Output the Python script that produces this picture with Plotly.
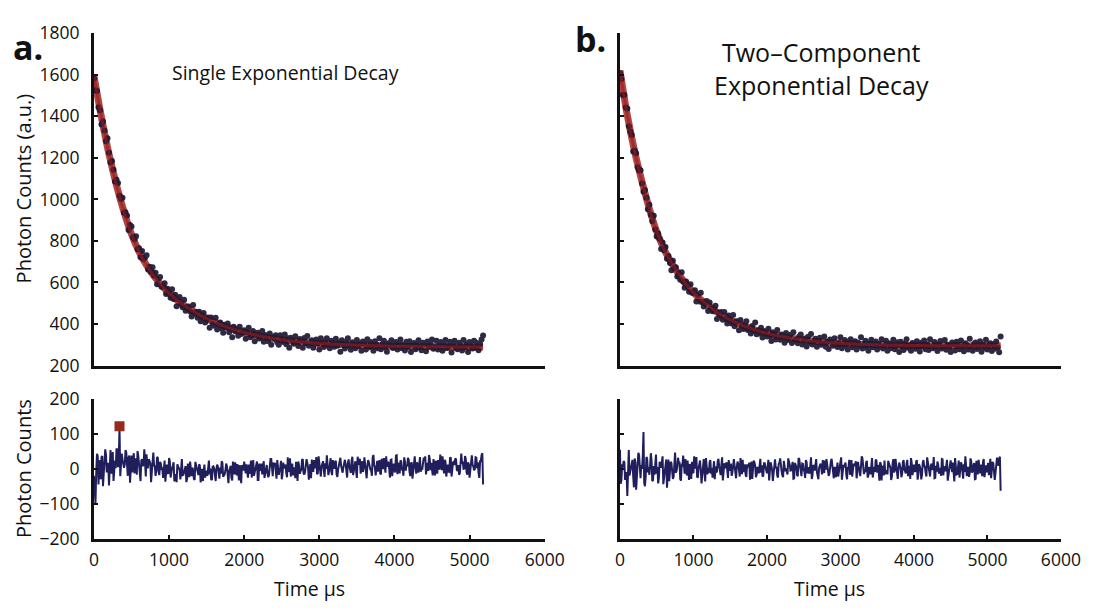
import plotly.graph_objects as go

# ---------------- data ----------------
# sample times of the measured points (µs), 20 µs apart
time_us = list(range(0, 5200, 20))
# in-between residual sample times (µs)
time_mid_us = list(range(10, 5180, 20))
# sample times of the fitted curves (µs)
fit_time_us = list(range(0, 5200, 100)) + [5180]

# Panel a: measured photon counts
counts_a = [
    1582,1525,1522,1444,1429,1360,1375,1331,1280,1294,1225,1178,1185,1143,1086,1094,1079,1017,1002,1008,
    936,938,923,853,877,869,818,808,823,760,765,721,752,713,720,731,663,676,651,673,
    634,647,591,619,627,579,582,596,544,570,553,527,567,521,541,486,519,530,497,481,
    517,464,482,485,460,436,492,450,458,430,459,414,438,453,407,420,431,382,431,400,
    392,430,374,400,408,380,358,397,383,403,361,382,336,387,365,376,344,387,352,361,
    370,329,361,382,336,342,366,317,349,358,330,340,366,315,347,331,317,355,300,339,
    331,346,312,300,346,330,314,350,303,331,286,334,322,305,341,309,294,328,321,286,
    333,307,342,295,301,322,286,314,326,306,278,331,316,289,309,332,294,283,320,309,
    291,329,296,311,267,322,303,282,315,331,293,276,312,301,284,323,294,307,271,316,
    305,278,327,288,313,295,272,317,302,284,331,279,304,319,288,267,308,299,322,285,
    295,313,277,307,326,284,302,273,315,291,317,265,304,309,279,299,322,288,274,310,
    305,269,316,292,308,326,281,289,319,277,297,313,271,302,323,285,294,315,263,303,
    319,285,279,310,298,273,323,290,306,266,313,295,282,320,287,309,274,304,326,345,
]
# Panel a: single exponential fit
fit_a = [
    1595,1395,1218,1068,940,832,748,683,630,586,548,517,490,466,445,426,410,395,382,370,
    360,351,343,336,330,325,320,316,313,310,307,305,303,301,300,298,297,296,295,294,293,
    293,292,292,291,291,291,290,290,290,290,290,290,
]
# Panel a: residuals at time_us
resid_a = [
    -20,-98,43,-45,2,33,-50,23,40,14,-48,54,34,-35,24,58,5,118,42,27,
    3,54,11,32,-40,38,15,-13,30,51,2,-35,28,13,-9,42,5,22,-38,34,
    10,-20,34,-8,20,0,-26,24,7,-12,31,-25,3,19,-15,-38,7,-3,23,-18,
    -10,8,-28,2,21,-21,-3,-32,10,-14,13,-39,0,5,-25,-5,18,-16,-30,6,
    1,-35,12,-12,4,22,-23,-15,15,-27,-7,9,-33,-2,19,-19,-10,11,-41,-1,
    21,-13,-19,12,0,-25,25,-8,8,-32,15,-3,-16,22,-11,11,-24,6,28,-21,
    12,-8,25,-17,4,-30,18,7,-12,33,-5,-22,15,2,-27,9,21,-14,-3,28,
    -16,9,17,-31,14,27,-6,2,34,-13,8,-22,22,-4,16,39,-18,6,-8,25,
    0,23,-23,14,32,-7,4,26,-18,16,7,-12,35,-4,22,-26,13,29,2,-9,
    33,-14,9,18,-2,-20,40,3,15,-8,25,-16,12,31,-11,6,20,-25,27,0,
    -3,38,-15,13,24,-1,-20,21,10,32,-7,16,-28,26,6,19,-11,34,1,12,
    23,-16,17,40,-4,3,28,-19,14,25,-2,9,36,-13,20,5,-8,31,-22,18,
    11,27,-6,-17,30,15,0,37,-10,19,-25,24,12,-4,33,2,-12,22,40,-45,
]
# Panel a: residuals at time_mid_us
resid_a_mid = [
    -75,-11,37,25,-30,37,1,56,-10,16,34,-14,48,17,2,56,31,-21,44,12,
    12,47,-20,38,20,-10,45,20,-17,37,-6,24,8,56,-22,2,28,16,-14,47,
    7,-5,32,-18,15,1,23,-37,12,-14,21,-3,9,-36,-15,13,1,-30,28,-17,
    2,-38,15,-24,-11,4,-29,20,-7,-18,9,-2,-35,12,-13,-20,24,1,-32,7,
    -35,0,6,-28,-14,17,-20,-4,8,-41,3,-26,21,-16,-1,14,-33,-22,11,-5,
    2,13,-25,-14,24,0,-20,7,21,-32,-4,15,3,-26,10,-12,-18,28,-7,18,
    17,-28,8,-5,23,-16,1,12,-24,-8,30,14,-19,2,20,-35,9,-7,26,-13,
    -9,28,5,14,-27,-6,25,10,-15,36,-11,7,22,-23,0,18,-7,31,-18,9,
    20,-16,-2,32,9,-11,19,14,-25,27,0,24,-18,11,-7,35,16,-14,22,4,
    13,-27,25,4,-5,33,12,-19,23,7,-13,29,-1,-9,36,18,2,26,-21,15,
    -10,39,17,-13,22,0,33,-5,8,26,-21,19,3,36,-14,11,23,-8,-2,32,
    36,5,-6,29,17,-19,10,23,-14,3,41,-4,15,26,-22,12,-9,33,0,20,
    30,-3,11,-13,44,21,1,27,-17,13,-8,39,7,-1,32,19,-26,22,45,
]
# highlighted residual point (panel a)
marker_t = [340]
marker_v = [122]

# Panel b: measured photon counts
counts_b = [
    1608,1580,1503,1503,1442,1438,1352,1327,1310,1231,1235,1222,1155,1139,1140,1076,1037,1045,1008,952,
    974,926,895,921,855,821,836,810,761,792,755,771,714,727,694,659,705,670,673,629,
    646,613,649,603,575,605,586,556,592,550,551,563,509,541,509,550,505,484,505,511,
    463,504,476,461,476,488,424,456,440,458,421,458,426,403,441,420,403,444,389,412,
    414,370,420,390,376,398,414,371,379,355,391,366,408,351,369,354,382,335,366,353,
    340,377,343,318,360,352,326,371,337,324,350,338,310,357,323,337,349,309,360,319,
    325,308,340,350,302,316,330,292,339,309,352,302,314,329,291,321,334,300,305,340,
    291,315,280,325,319,296,332,302,290,308,336,283,296,323,303,278,316,327,288,299,
    317,277,310,293,337,282,299,320,287,271,309,324,288,299,316,277,304,291,327,282,
    293,320,271,308,283,301,324,279,294,312,265,315,290,275,306,327,286,295,272,309,
    299,281,317,287,268,310,292,321,279,303,275,327,288,283,313,293,270,304,318,282,
    287,323,276,300,284,266,311,303,273,315,295,279,321,290,269,307,298,277,329,289,
    271,305,311,280,292,317,267,300,284,324,277,295,308,270,303,281,316,286,264,340,
]
# Panel b: two-component fit
fit_b = [
    1620,1405,1230,1085,955,845,760,695,640,592,552,518,490,462,440,420,403,389,376,365,
    355,347,340,334,328,323,319,315,312,309,307,305,304,302,301,300,299,298,298,297,297,
    297,296,296,296,296,296,295,295,295,295,295,295,
]
# Panel b: residuals at time_us
resid_b = [
    55,-32,5,19,-13,-78,54,-5,14,-22,30,-60,10,40,-27,0,106,-50,34,-10,
    -17,45,-35,8,24,-14,-42,20,3,36,-23,12,-54,27,-3,17,-29,39,-11,6,
    18,-29,11,38,-14,-6,24,-32,7,20,-12,1,34,-25,14,-4,-19,28,-36,12,
    3,19,-14,-25,22,7,-8,29,-18,11,-33,16,4,-12,25,-6,-20,14,8,-27,
    21,-4,31,-15,-9,13,-23,6,18,-1,-29,24,10,-17,3,27,-11,-22,16,5,
    -13,26,-7,9,-35,20,2,-19,14,30,-8,-24,12,1,-16,23,-5,8,-28,17,
    6,-21,28,-10,15,-3,-26,19,4,-14,33,-18,7,22,-9,-30,11,2,25,-12,
    -2,16,-20,10,29,-13,5,-24,18,-6,21,-31,8,13,-17,3,26,-8,-22,14,
    9,-27,20,-4,12,30,-15,-7,23,-19,1,17,-25,6,27,-11,-2,19,-33,7,
    24,-10,-16,15,3,-22,28,-5,11,-29,18,0,-13,25,-8,14,-21,9,31,-18,
    12,-8,25,-17,4,-30,18,7,-12,33,-5,-22,15,2,-27,9,21,-14,-3,28,
    -19,6,14,-34,11,24,-9,-1,31,-16,5,-25,19,-7,13,36,-21,3,-11,22,
    -6,17,-29,8,26,-13,-2,20,-24,10,1,-18,29,-10,16,-32,7,23,30,-63,
]
# Panel b: residuals at time_mid_us
resid_b_mid = [
    -43,13,22,-32,-10,40,-19,6,26,-53,18,-29,46,-13,11,35,-40,-22,30,5,
    8,24,-33,-17,41,5,-26,15,36,-44,-2,27,9,-35,20,-14,-23,47,-6,32,
    20,-34,10,-6,28,-19,1,14,-29,-10,36,17,-23,2,24,-42,11,-8,31,-16,
    -12,25,2,11,-30,-9,22,7,-18,33,-14,4,19,-26,-3,15,-10,28,-21,6,
    14,-22,-8,26,3,-17,13,8,-31,21,-6,18,-24,5,-13,29,10,-20,16,-2,
    7,-33,19,-2,-11,27,6,-25,17,1,-19,23,-7,-15,30,12,-4,20,-27,9,
    -18,31,9,-21,14,-8,25,-13,0,18,-29,11,-5,28,-22,3,15,-16,-10,24,
    28,-3,-14,21,9,-27,2,15,-22,-5,33,-12,7,18,-30,4,-17,25,-8,12,
    22,-11,3,-21,36,13,-7,19,-25,5,-16,31,-1,-9,24,11,-34,14,6,-19,
    -15,-4,23,7,-32,16,-10,29,-18,1,10,-24,20,-2,-13,26,8,-29,17,-6,
    -6,21,-31,14,0,-17,25,6,-22,19,-14,9,-3,34,-26,-8,12,3,-20,27,
    4,-7,26,-19,11,-2,18,-36,8,-15,24,2,13,-28,-9,16,5,-23,30,-11,
    10,-30,23,-16,-3,12,-21,28,1,-10,17,6,-27,20,-5,-12,32,9,35,
]

top_yticks = [200, 400, 600, 800, 1000, 1200, 1400, 1600, 1800]
bot_yticks = [-200, -100, 0, 100, 200]
bot_yticktext = ["\u2212200", "\u2212100", "0", "100", "200"]
xticks = [0, 1000, 2000, 3000, 4000, 5000, 6000]

titles = ["Single Exponential Decay", "Two\u2013Component<br>Exponential Decay"]
panel_labels = ["a.", "b."]


def merge(t1, v1, t2, v2):
    """Put the two sets of residual samples in time order."""
    pairs = sorted(list(zip(t1, v1)) + list(zip(t2, v2)))
    return [p[0] for p in pairs], [p[1] for p in pairs]


res_t_a, res_v_a = merge(time_us, resid_a, time_mid_us, resid_a_mid)
res_t_b, res_v_b = merge(time_us, resid_b, time_mid_us, resid_b_mid)

# ---------------- styling ----------------
FONT = "Open Sans"
DOT = "#191430"
FIT = "#9c1c18"
RES = "#211e5c"
W, H = 1120, 611

def px_x(p):
    return p / W

def px_y(p):
    return 1 - p / H

xa_dom = [px_x(91), px_x(552)]
xb_dom = [px_x(629), px_x(1080)]
top_dom = [px_y(367), px_y(21)]
bot_dom = [px_y(547), px_y(402)]

fig = go.Figure()

# Top panels
for counts, fit, xa, ya in [(counts_a, fit_a, "x", "y"), (counts_b, fit_b, "x2", "y2")]:
    fig.add_trace(go.Scatter(x=fit_time_us, y=fit, mode="lines",
                             line=dict(color=FIT, width=7, shape="spline"),
                             opacity=0.8, xaxis=xa, yaxis=ya, hoverinfo="skip"))
    fig.add_trace(go.Scatter(x=time_us, y=counts, mode="markers",
                             marker=dict(size=6, color=DOT, line=dict(width=0)),
                             opacity=0.9, xaxis=xa, yaxis=ya, hoverinfo="skip"))
    fig.add_trace(go.Scatter(x=fit_time_us, y=fit, mode="lines",
                             line=dict(color=FIT, width=3, shape="spline"),
                             opacity=0.6, xaxis=xa, yaxis=ya, hoverinfo="skip"))

# Bottom panels
fig.add_trace(go.Scatter(x=res_t_a, y=res_v_a, mode="lines",
                         line=dict(color=RES, width=2), xaxis="x3", yaxis="y3"))
fig.add_trace(go.Scatter(x=marker_t, y=marker_v, mode="markers",
                         marker=dict(size=10, color="#9b2a1e", symbol="square"),
                         xaxis="x3", yaxis="y3"))
fig.add_trace(go.Scatter(x=res_t_b, y=res_v_b, mode="lines",
                         line=dict(color=RES, width=2), xaxis="x4", yaxis="y4"))

axis_common = dict(showline=True, linecolor="#111", linewidth=3, showgrid=False,
                   zeroline=False, ticks="inside", ticklen=4, tickwidth=2,
                   tickcolor="#111", tickfont=dict(family=FONT, size=17.5, color="#111"))

layout = dict(
    width=W, height=H, autosize=False, margin=dict(l=0, r=0, t=0, b=0),
    paper_bgcolor="white", plot_bgcolor="white", showlegend=False,
    font=dict(family=FONT, color="#111"),
    xaxis=dict(axis_common, domain=xa_dom, range=[0, 6000], anchor="y",
               ticks="", showticklabels=False),
    yaxis=dict(axis_common, domain=top_dom, range=[200, 1800], anchor="x",
               tickvals=top_yticks, ticklabelstandoff=8),
    xaxis2=dict(axis_common, domain=xb_dom, range=[0, 6000], anchor="y2",
                ticks="", showticklabels=False),
    yaxis2=dict(axis_common, domain=top_dom, range=[200, 1800], anchor="x2",
                tickvals=top_yticks, showticklabels=False),
    xaxis3=dict(axis_common, domain=xa_dom, range=[0, 6000], anchor="y3",
                tickvals=xticks, ticklabelstandoff=3),
    yaxis3=dict(axis_common, domain=bot_dom, range=[-200, 200], anchor="x3",
                tickvals=bot_yticks, ticktext=bot_yticktext, ticklabelstandoff=8),
    xaxis4=dict(axis_common, domain=xb_dom, range=[0, 6000], anchor="y4",
                tickvals=xticks, ticklabelstandoff=3),
    yaxis4=dict(axis_common, domain=bot_dom, range=[-200, 200], anchor="x4",
                tickvals=bot_yticks, showticklabels=False),
)
fig.update_layout(**layout)

ann = []
ann.append(dict(text="<b>" + panel_labels[0] + "</b>", x=px_x(6), y=px_y(35), xanchor="left",
                yanchor="middle", font=dict(family=FONT, size=34, color="#111")))
ann.append(dict(text="<b>" + panel_labels[1] + "</b>", x=px_x(581), y=px_y(27), xanchor="left",
                yanchor="middle", font=dict(family=FONT, size=34, color="#111")))
ann.append(dict(text=titles[0], x=px_x(287), y=px_y(62), xanchor="center", yanchor="middle",
                font=dict(family=FONT, size=19.5, color="#111")))
ann.append(dict(text=titles[1], x=px_x(835), y=px_y(58), xanchor="center", yanchor="middle",
                font=dict(family=FONT, size=25, color="#111")))
ann.append(dict(text="Photon Counts (a.u.)", x=px_x(19), y=px_y(183), textangle=-90,
                xanchor="center", yanchor="middle", font=dict(family=FONT, size=20, color="#111")))
ann.append(dict(text="Photon Counts", x=px_x(19), y=px_y(474), textangle=-90,
                xanchor="center", yanchor="middle", font=dict(family=FONT, size=20, color="#111")))
ann.append(dict(text="Time \u03bcs", x=px_x(311), y=px_y(599), xanchor="center", yanchor="middle",
                font=dict(family=FONT, size=19.5, color="#111")))
ann.append(dict(text="Time \u03bcs", x=px_x(843), y=px_y(599), xanchor="center", yanchor="middle",
                font=dict(family=FONT, size=19.5, color="#111")))
for a in ann:
    a.update(xref="paper", yref="paper", showarrow=False)
fig.update_layout(annotations=ann)

fig.write_html("out.html")
